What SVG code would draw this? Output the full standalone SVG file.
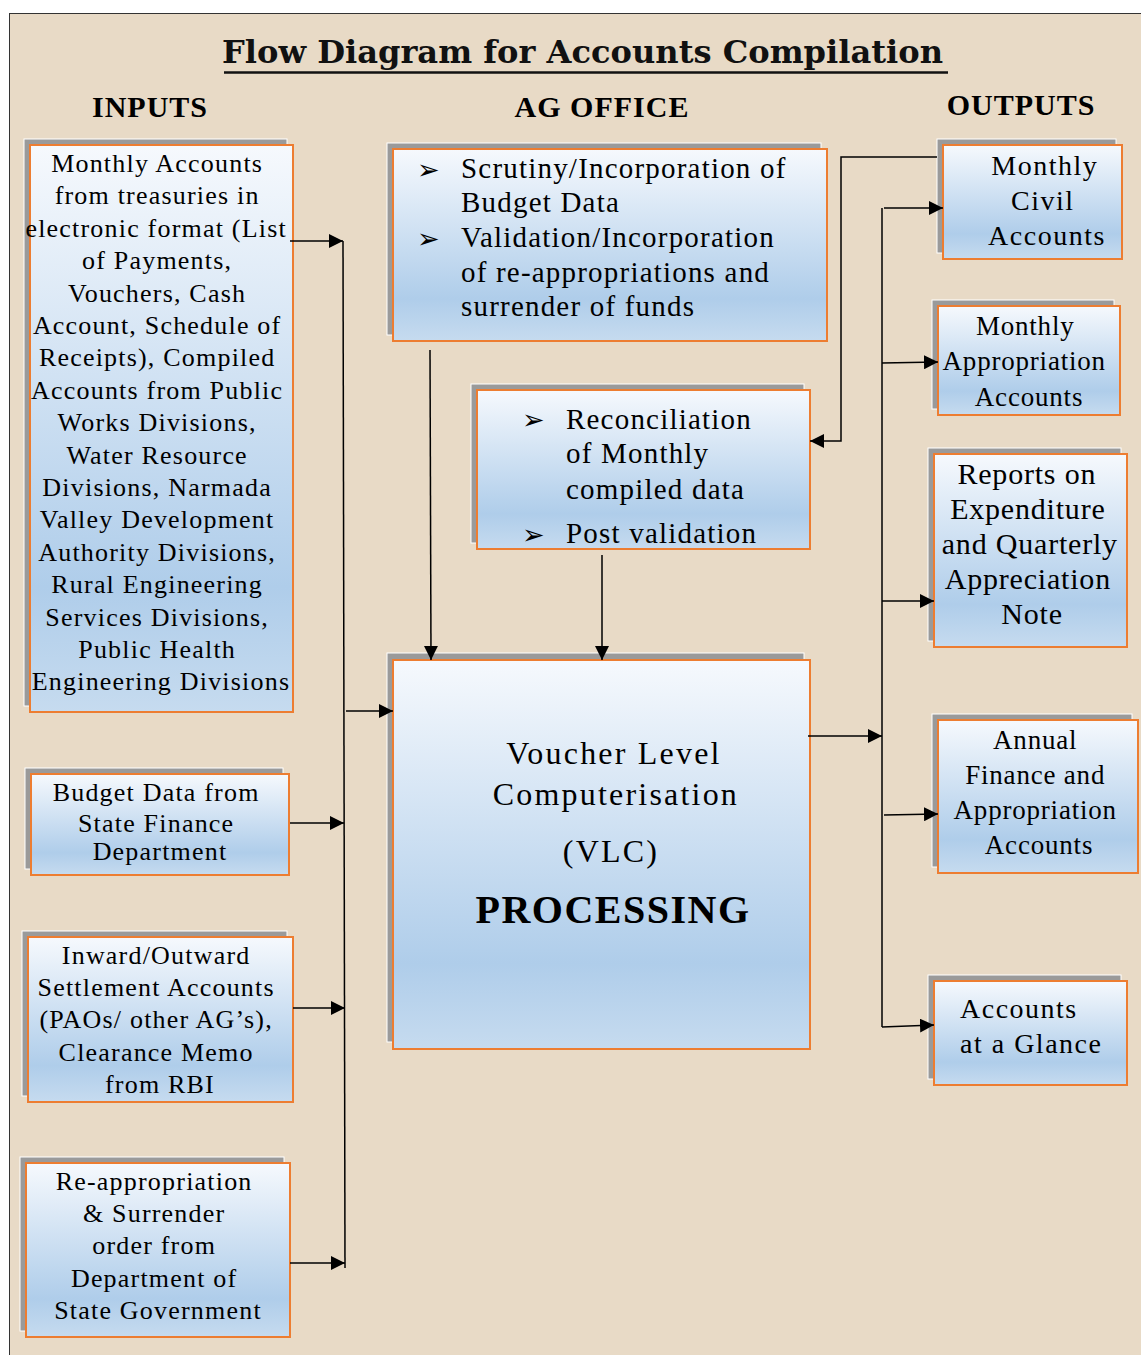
<svg xmlns="http://www.w3.org/2000/svg" width="1141" height="1355" viewBox="0 0 1141 1355">
<defs>
<linearGradient id="fillG" x1="0" y1="0" x2="0" y2="1">
<stop offset="0" stop-color="#F6F9FD"/>
<stop offset="0.78" stop-color="#AFCDEA"/>
<stop offset="1" stop-color="#C6DBEF"/>
</linearGradient>
<marker id="ah" viewBox="0 0 14 14" refX="14" refY="7" markerWidth="14" markerHeight="14" markerUnits="userSpaceOnUse" orient="auto">
<path d="M0,0 L14,7 L0,14 z" fill="#000"/>
</marker>
<style>
.sh{fill:#9A9A9A;stroke:#FFFFFF;stroke-width:1}
.bx{fill:url(#fillG);stroke:#ED7D31;stroke-width:2}
.t{font-family:"Liberation Serif","Times New Roman",serif;fill:#000}
.t26{font-size:26px;letter-spacing:1.2px;text-anchor:middle}
.t29{font-size:29px;letter-spacing:1.2px}
.hd{font-family:"Liberation Serif","Times New Roman",serif;font-weight:bold;font-size:30px;letter-spacing:1px;text-anchor:middle;fill:#000}
.bul{font-family:"DejaVu Sans",sans-serif;font-size:27px;fill:#000}
.c{fill:none;stroke:#000;stroke-width:1.5}
.ca{fill:none;stroke:#000;stroke-width:1.5;marker-end:url(#ah)}
</style>
</defs>
<rect x="0" y="0" width="1141" height="1355" fill="#FFFFFF"/>
<rect x="9.5" y="13.5" width="1145" height="1350" fill="#E8DAC6" stroke="#333" stroke-width="1"/>

<g id="title">
<text x="222" y="63" font-family="'DejaVu Serif',serif" font-weight="bold" font-size="32" textLength="721" lengthAdjust="spacingAndGlyphs" fill="#111">Flow Diagram for Accounts Compilation</text>
<line x1="224" y1="72.5" x2="948" y2="72.5" stroke="#111" stroke-width="2.5"/>
</g>
<g id="headers">
<text class="hd" x="150" y="117">INPUTS</text>
<text class="hd" x="602" y="117">AG OFFICE</text>
<text class="hd" x="1021" y="115">OUTPUTS</text>
</g>

<g id="input-monthly-accounts">
<rect class="sh" x="24" y="139" width="263" height="567"/>
<rect class="bx" x="30" y="145" width="263" height="567"/>
<text class="t t26">
<tspan x="161" y="172">Monthly Accounts</tspan>
<tspan x="161" y="204.4">from treasuries in</tspan>
<tspan x="160" y="236.8">electronic format (List</tspan>
<tspan x="161" y="269.2">of Payments,</tspan>
<tspan x="161" y="301.6">Vouchers, Cash</tspan>
<tspan x="161" y="334">Account, Schedule of</tspan>
<tspan x="161" y="366.4">Receipts), Compiled</tspan>
<tspan x="161" y="398.8">Accounts from Public</tspan>
<tspan x="161" y="431.2">Works Divisions,</tspan>
<tspan x="161" y="463.6">Water Resource</tspan>
<tspan x="161" y="496">Divisions, Narmada</tspan>
<tspan x="161" y="528.4">Valley Development</tspan>
<tspan x="161" y="560.8">Authority Divisions,</tspan>
<tspan x="161" y="593.2">Rural Engineering</tspan>
<tspan x="161" y="625.6">Services Divisions,</tspan>
<tspan x="161" y="658">Public Health</tspan>
<tspan x="161" y="690.4">Engineering Divisions</tspan>
</text>
</g>

<g id="input-budget-data">
<rect class="sh" x="25" y="768" width="258" height="101"/>
<rect class="bx" x="31" y="774" width="258" height="101"/>
<text class="t t26">
<tspan x="160" y="801">Budget Data from</tspan>
<tspan x="160" y="832">State Finance</tspan>
<tspan x="160" y="860">Department</tspan>
</text>
</g>

<g id="input-settlement">
<rect class="sh" x="22" y="931" width="265" height="165"/>
<rect class="bx" x="28" y="937" width="265" height="165"/>
<text class="t t26">
<tspan x="160" y="963.5">Inward/Outward</tspan>
<tspan x="160" y="996">Settlement Accounts</tspan>
<tspan x="160" y="1028">(PAOs/ other AG’s),</tspan>
<tspan x="160" y="1061">Clearance Memo</tspan>
<tspan x="160" y="1093">from RBI</tspan>
</text>
</g>

<g id="input-reappropriation">
<rect class="sh" x="20" y="1157" width="264" height="174"/>
<rect class="bx" x="26" y="1163" width="264" height="174"/>
<text class="t t26">
<tspan x="158" y="1190">Re-appropriation</tspan>
<tspan x="158" y="1222">&amp; Surrender</tspan>
<tspan x="158" y="1254">order from</tspan>
<tspan x="158" y="1286.5">Department of</tspan>
<tspan x="158" y="1319">State Government</tspan>
</text>
</g>

<g id="ag-scrutiny">
<rect class="sh" x="387" y="143" width="434" height="192"/>
<rect class="bx" x="393" y="149" width="434" height="192"/>
<text class="bul" x="417" y="179">➢</text>
<text class="bul" x="417" y="248">➢</text>
<text class="t t29">
<tspan x="461" y="178">Scrutiny/Incorporation of</tspan>
<tspan x="461" y="212">Budget Data</tspan>
<tspan x="461" y="247">Validation/Incorporation</tspan>
<tspan x="461" y="282">of re-appropriations and</tspan>
<tspan x="461" y="316">surrender of funds</tspan>
</text>
</g>

<g id="ag-reconciliation">
<rect class="sh" x="471" y="384" width="333" height="159"/>
<rect class="bx" x="477" y="390" width="333" height="159"/>
<text class="bul" x="522" y="429">➢</text>
<text class="bul" x="522" y="544">➢</text>
<text class="t t29">
<tspan x="566" y="428.5">Reconciliation</tspan>
<tspan x="566" y="463">of Monthly</tspan>
<tspan x="566" y="498.5">compiled data</tspan>
<tspan x="566" y="543">Post validation</tspan>
</text>
</g>

<g id="vlc-processing">
<rect class="sh" x="387" y="653" width="417" height="389"/>
<rect class="bx" x="393" y="660" width="417" height="389"/>
<text class="t" font-size="32" letter-spacing="2.2" text-anchor="middle">
<tspan x="619" y="764">Voucher Level</tspan>
<tspan x="621" y="805">Computerisation</tspan>
<tspan x="611" y="862">(VLC)</tspan>
</text>
<text class="t" font-size="40" font-weight="bold" letter-spacing="1.5" text-anchor="middle" x="613" y="923">PROCESSING</text>
</g>

<g id="out-monthly-civil">
<rect class="sh" x="937" y="139" width="179" height="114"/>
<rect class="bx" x="943" y="145" width="179" height="114"/>
<text class="t" font-size="28" letter-spacing="1.5" text-anchor="middle">
<tspan x="1049" y="174.5">Monthly</tspan>
<tspan x="1047" y="210">Civil</tspan>
<tspan x="1047" y="245">Accounts</tspan>
</text>
</g>

<g id="out-monthly-appropriation">
<rect class="sh" x="932" y="300" width="182" height="109"/>
<rect class="bx" x="938" y="306" width="182" height="109"/>
<text class="t" font-size="27" letter-spacing="0.8" text-anchor="middle">
<tspan x="1029" y="335">Monthly</tspan>
<tspan x="1028" y="370">Appropriation</tspan>
<tspan x="1029" y="406">Accounts</tspan>
</text>
</g>

<g id="out-reports">
<rect class="sh" x="928" y="448" width="193" height="193"/>
<rect class="bx" x="934" y="454" width="193" height="193"/>
<text class="t" font-size="30" letter-spacing="0.8" text-anchor="middle">
<tspan x="1031" y="483.5">Reports on</tspan>
<tspan x="1032" y="518.5">Expenditure</tspan>
<tspan x="1034" y="553.5">and Quarterly</tspan>
<tspan x="1032" y="588.5">Appreciation</tspan>
<tspan x="1032" y="623.5">Note</tspan>
</text>
</g>

<g id="out-annual">
<rect class="sh" x="932" y="714" width="200" height="153"/>
<rect class="bx" x="938" y="720" width="200" height="153"/>
<text class="t" font-size="27" letter-spacing="0.8" text-anchor="middle">
<tspan x="1039" y="748.5">Annual</tspan>
<tspan x="1039" y="783.5">Finance and</tspan>
<tspan x="1039" y="819">Appropriation</tspan>
<tspan x="1039" y="854">Accounts</tspan>
</text>
</g>

<g id="out-glance">
<rect class="sh" x="928" y="975" width="193" height="104"/>
<rect class="bx" x="934" y="981" width="193" height="104"/>
<text class="t" font-size="28" letter-spacing="1.5">
<tspan x="960" y="1018">Accounts</tspan>
<tspan x="960" y="1052.5">at a Glance</tspan>
</text>
</g>

<g id="connectors">
<path class="ca" d="M290,241 H343"/>
<path class="c" d="M343,241 L345,1268"/>
<path class="ca" d="M290,823 H344"/>
<path class="ca" d="M293,1008 H345"/>
<path class="ca" d="M290,1263 H345"/>
<path class="ca" d="M346,711 H393"/>
<path class="ca" d="M430,350 L431,660"/>
<path class="ca" d="M602,555 V660"/>
<path class="ca" d="M937,157 H841 V441 H810"/>
<path class="c" stroke="#333" d="M882,208 V1027"/>
<path class="ca" d="M884,208 H943"/>
<path class="ca" d="M882,363 L938,362"/>
<path class="ca" d="M882,601 H934"/>
<path class="ca" d="M808,736 H882"/>
<path class="ca" d="M884,815 L938,814"/>
<path class="ca" d="M882,1027 L934,1025"/>
</g>
</svg>
